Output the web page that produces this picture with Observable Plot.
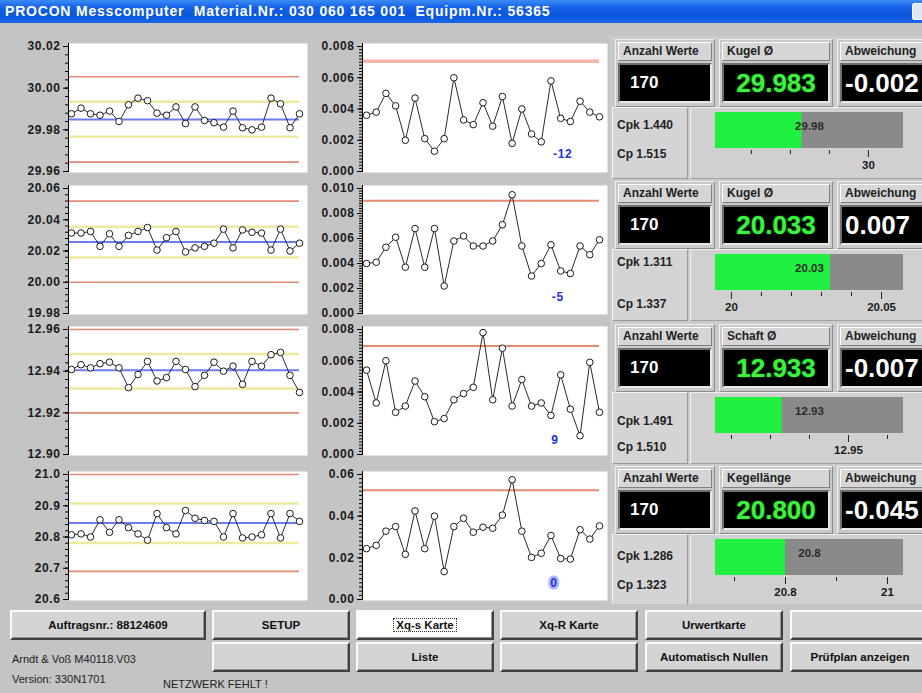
<!DOCTYPE html>
<html><head><meta charset="utf-8">
<script src="https://cdn.jsdelivr.net/npm/d3@7"></script>
<script src="https://cdn.jsdelivr.net/npm/@observablehq/plot@0.6"></script>
<style>
html,body{margin:0;padding:0;}
body{width:922px;height:693px;overflow:hidden;background:#c4c4c4;font-family:"Liberation Sans",Arial,sans-serif;}
#app{position:relative;width:922px;height:693px;overflow:hidden;}
.a{position:absolute;box-sizing:border-box;}
.title{left:0;top:0;width:922px;height:23px;background:linear-gradient(180deg,#3b8cf5 0%,#1360e6 35%,#0a55dc 70%,#1d66e8 100%);color:#fff;font-weight:bold;font-size:14px;letter-spacing:0.8px;line-height:23px;padding-left:5px;white-space:pre;}
.close{left:912px;top:3px;width:18px;height:17px;background:#dfe6f5;border:1px solid #fff;border-radius:2px;}
.hdr{background:#d6d6d6;border-top:1px solid #fff;border-left:1px solid #fff;border-right:1px solid #808080;border-bottom:1px solid #808080;font-weight:bold;font-size:12px;color:#222;padding-left:4px;line-height:17px;white-space:nowrap;overflow:hidden;}
.blk{background:#000;border:2px solid;border-color:#707070 #e8e8e8 #e8e8e8 #707070;white-space:nowrap;overflow:hidden;}
.grp{border:1px solid;border-color:#f0f0f0 #8a8a8a #8a8a8a #f0f0f0;background:#c9c9c9;}
.cpk{background:#d4d4d4;border:1px solid;border-color:#f4f4f4 #9a9a9a #9a9a9a #f4f4f4;}
.gpan{background:#d0d0d0;border:1px solid;border-color:#f0f0f0 #a0a0a0 #a0a0a0 #f0f0f0;}
.ctxt{font-weight:bold;font-size:12px;color:#222;white-space:nowrap;}
.btn{background:#d4d4d4;border:2px solid;border-color:#fafafa #404040 #404040 #fafafa;box-shadow:inset -1px -1px 0 #909090;font-weight:bold;font-size:11.5px;color:#111;text-align:center;white-space:nowrap;overflow:hidden;display:flex;align-items:center;justify-content:center;}
.btn.on{background:#fff;}
.btn.on span{outline:1px dotted #333;padding:0 2px;}
.small{font-size:11px;color:#222;white-space:nowrap;}
</style></head>
<body><div id="app"></div>
<script>
// ---------- data ----------
const titleText = "PROCON Messcomputer  Material.Nr.: 030 060 165 001  Equipm.Nr.: 56365";

// X-bar (mean) series, 25 subgroups each
const xbar1 = [29.9877,29.9904,29.9877,29.9870,29.9890,29.9840,29.9920,29.9952,29.9940,29.9880,29.9870,29.9910,29.9830,29.9910,29.9845,29.9834,29.9813,29.9890,29.9810,29.9800,29.9813,29.9952,29.9925,29.9810,29.9877];
const xbar2 = [20.0315,20.0315,20.0325,20.0230,20.0310,20.0230,20.0300,20.0325,20.0350,20.0206,20.0285,20.0325,20.0194,20.0220,20.0230,20.0250,20.0340,20.0220,20.0335,20.0320,20.0315,20.0206,20.0340,20.0200,20.0250];
const xbar3 = [12.9408,12.9431,12.9416,12.9436,12.9443,12.9416,12.9321,12.9384,12.9447,12.9353,12.9369,12.9447,12.9408,12.9326,12.9380,12.9443,12.9400,12.9424,12.9337,12.9447,12.9424,12.9479,12.9490,12.9380,12.9298];
const xbar4 = [20.807,20.810,20.800,20.855,20.815,20.855,20.830,20.810,20.790,20.875,20.830,20.810,20.885,20.860,20.853,20.850,20.800,20.875,20.797,20.800,20.807,20.875,20.797,20.875,20.850];

// s (standard deviation) series
const s1 = [0.0036,0.0038,0.0050,0.0042,0.0020,0.0047,0.0021,0.0013,0.0021,0.0060,0.0033,0.0030,0.0044,0.0029,0.0048,0.0018,0.0040,0.0024,0.0019,0.0058,0.0034,0.0032,0.0045,0.0038,0.0035];
const s2 = [0.0040,0.0041,0.0053,0.0061,0.0037,0.0068,0.0037,0.0068,0.0022,0.0058,0.0062,0.0054,0.0054,0.0058,0.0071,0.0095,0.0054,0.0030,0.0040,0.0055,0.0034,0.0032,0.0054,0.0047,0.0059];
const s3 = [0.0054,0.0033,0.0060,0.0027,0.0031,0.0047,0.0037,0.0021,0.0023,0.0035,0.0039,0.0043,0.0078,0.0035,0.0068,0.0031,0.0048,0.0031,0.0033,0.0025,0.0051,0.0029,0.0012,0.0059,0.0027];
const s4 = [0.0244,0.0260,0.0328,0.0350,0.0217,0.0425,0.0244,0.0400,0.0134,0.0350,0.0390,0.0323,0.0347,0.0342,0.0405,0.0575,0.0328,0.0202,0.0222,0.0307,0.0197,0.0194,0.0335,0.0290,0.0353];

// control limits (mean charts)
const meanCL  = [29.985, 20.0258, 12.9405, 20.845];
const meanUWL = [29.9935, 20.0356, 12.9482, 20.907];
const meanLWL = [29.9767, 20.0158, 12.9317, 20.781];
const meanUCL = [30.0055, 20.0519, 12.9600, 21.000];
const meanLCL = [29.9645, 20.0000, 12.9200, 20.690];
const sUCL    = [0.00705, 0.00903, 0.00695, 0.0524];

// axis domains and tick labels
const meanDomain = [[29.96,30.02],[19.98,20.06],[12.90,12.96],[20.6,21.0]];
const meanTicks  = [[29.96,29.98,30.00,30.02],[19.98,20.00,20.02,20.04,20.06],[12.90,12.92,12.94,12.96],[20.6,20.7,20.8,20.9,21.0]];
const meanFmt    = [".2f",".2f",".2f",".1f"];
const sDomain    = [[0,0.008],[0,0.010],[0,0.008],[0,0.06]];
const sTicks     = [[0,0.002,0.004,0.006,0.008],[0,0.002,0.004,0.006,0.008,0.010],[0,0.002,0.004,0.006,0.008],[0,0.02,0.04,0.06]];
const sFmt       = [".3f",".3f",".3f",".2f"];

// blue annotation numbers in s charts
const noteText = ["-12","-5","9","0"];
const noteX    = [20.2, 19.7, 19.4, 19.3];
const noteY    = [0.0011, 0.0013, 0.00095, 0.0078];

// right panel values
const countLabel = "Anzahl Werte";
const featureNames = ["Kugel Ø","Kugel Ø","Schaft Ø","Kegellänge"];
const counts = ["170","170","170","170"];
const actualValues = ["29.983","20.033","12.933","20.800"];
const deviations = ["-0.002","0.007","-0.007","-0.045"];
const devLabel = "Abweichung";
const cpkValues = ["1.440","1.311","1.491","1.286"];
const cpValues  = ["1.515","1.337","1.510","1.323"];

// gauges
const gaugeValue  = [29.983, 20.033, 12.933, 20.800];
const gaugeText   = ["29.98","20.03","12.93","20.8"];
const gaugeDomain = [[29.9608,30.0090],[19.9947,20.0573],[12.9159,12.9641],[20.6627,21.0314]];
const gaugeMinor  = [[29.97,29.98,29.99],[20.01,20.02,20.03,20.04],[12.92,12.93,12.94,12.96],[20.7,20.9]];
const gaugeMajor  = [[30.00],[20.00,20.05],[12.95],[20.8,21.0]];
const gaugeMajorLabels = [["30"],["20","20.05"],["12.95"],["20.8","21"]];

// buttons and footer
const buttonsRow1 = ["Auftragsnr.: 88124609","SETUP","Xq-s Karte","Xq-R Karte","Urwertkarte",""];
const buttonsRow2 = ["","Liste","","Automatisch Nullen","Prüfplan anzeigen"];
const footer1 = "Arndt & Voß M40118.V03";
const footer2 = "Version: 330N1701";
const footer3 = "NETZWERK FEHLT !";

// ---------- layout ----------
const app = document.getElementById("app");
function div(cls, x, y, w, h, html) {
  const d = document.createElement("div");
  d.className = "a " + cls;
  d.style.left = x + "px"; d.style.top = y + "px";
  if (w != null) d.style.width = w + "px";
  if (h != null) d.style.height = h + "px";
  if (html != null) d.innerHTML = html;
  app.appendChild(d);
  return d;
}
function place(svg, x, y) {
  svg.style.position = "absolute";
  svg.style.left = x + "px"; svg.style.top = y + "px";
  app.appendChild(svg);
}

div("title", 0, 0, 922, 23).textContent = titleText;
div("close", 912, 3, 18, 17);

const rowTop = [46, 188, 329, 474];   // y of top domain value
const span = 125;
const FONT = '"Liberation Sans", Arial, sans-serif';
const baseStyle = {background: "transparent", overflow: "visible", fontFamily: FONT, fontSize: "12px", fontWeight: "bold", color: "#1a1a1a", letterSpacing: "0.6px"};

function minorTicks(dom, n) { return d3.range(n + 1).map(i => dom[0] + i * (dom[1] - dom[0]) / n); }

const meanData = [xbar1, xbar2, xbar3, xbar4];
const sData = [s1, s2, s3, s4];

for (let r = 0; r < 4; r++) {
  const dataM = meanData[r].map((v, i) => ({i, v}));
  const dataS = sData[r].map((v, i) => ({i, v}));
  const h = 10 + 3 + span + 1 + 10;
  const majorM = meanTicks[r];
  const minorM = d3.merge(d3.pairs(majorM).map(p => minorTicks(p, 5)));
  const left = Plot.plot({
    width: 310, height: h, marginLeft: 68, marginRight: 3, marginTop: 10, marginBottom: 10,
    style: baseStyle,
    x: {domain: [0, 24], insetLeft: 3, insetRight: 8, axis: null},
    y: {domain: meanDomain[r], insetTop: 3, insetBottom: 1, label: null},
    marks: [
      Plot.frame({fill: "white", stroke: null}),
      Plot.ruleY([meanUWL[r], meanLWL[r]], {stroke: "#eeeaa0", strokeWidth: 2.5, insetRight: 8}),
      Plot.ruleY([meanUCL[r], meanLCL[r]], {stroke: "#e28a74", strokeWidth: 1.6, insetRight: 8}),
      Plot.ruleY([meanCL[r]], {stroke: "#6b7ced", strokeWidth: 2, insetRight: 8}),
      Plot.line(dataM, {x: "i", y: "v", stroke: "#23285a", strokeWidth: 1}),
      Plot.dot(dataM, {x: "i", y: "v", r: 3.3, fill: "white", stroke: "#1b1b1b", strokeWidth: 1}),
      Plot.ruleX([0], {dx: -3, stroke: "#000", strokeWidth: 1}),
      Plot.axisY(minorM, {tickSize: 3, tickFormat: () => "", stroke: "#000"}),
      Plot.axisY(majorM, {tickSize: 5, tickPadding: 3, tickFormat: d3.format(meanFmt[r]), stroke: "#000"})
    ]
  });
  place(left, 0, rowTop[r] - 13);

  const majorS = sTicks[r];
  const minorS = d3.merge(d3.pairs(majorS).map(p => minorTicks(p, 10)));
  const right = Plot.plot({
    width: 310, height: h, marginLeft: 62, marginRight: 3, marginTop: 10, marginBottom: 10,
    style: baseStyle,
    x: {domain: [0, 24], insetLeft: 4, insetRight: 8, axis: null},
    y: {domain: sDomain[r], insetTop: 3, insetBottom: 1, label: null},
    marks: [
      Plot.frame({fill: "white", stroke: null}),
      Plot.ruleY([sUCL[r]], {stroke: r === 0 ? "#f5b4a4" : "#e58c70", strokeWidth: r === 0 ? 3.5 : 2, insetRight: 8}),
      Plot.line(dataS, {x: "i", y: "v", stroke: "#2a2a2a", strokeWidth: 1}),
      Plot.dot(dataS, {x: "i", y: "v", r: 3.3, fill: "white", stroke: "#1b1b1b", strokeWidth: 1}),
      Plot.text([noteText[r]], {x: noteX[r], y: noteY[r], text: d => d, fill: "#2233dd", fontSize: 12, fontWeight: "bold",
        stroke: r === 3 ? "#aab6f5" : null, strokeWidth: r === 3 ? 5 : 0}),
      Plot.ruleX([0], {dx: -4, stroke: "#000", strokeWidth: 1}),
      Plot.axisY(minorS, {tickSize: 3, tickFormat: () => "", stroke: "#000"}),
      Plot.axisY(majorS, {tickSize: 5, tickPadding: 3, tickFormat: d3.format(sFmt[r]), stroke: "#000"})
    ]
  });
  place(right, 300, rowTop[r] - 13);
}

// right panel
const hdrTop = [42, 184, 327, 469];
const cpkDy = [[84, 113], [79, 121], [95, 121], [88, 117]];
const cols = [[618, 94], [722, 108], [840, 100]];
div("", 610, 36, 312, 570).style.background = "#cacaca";
for (let r = 0; r < 4; r++) {
  const t = hdrTop[r];
  cols.forEach(([x, w]) => div("grp", x - 3, t - 3, w + 6, 68));
  div("hdr", cols[0][0], t, cols[0][1], 19).textContent = countLabel;
  div("hdr", cols[1][0], t, cols[1][1], 19).textContent = featureNames[r];
  div("hdr", cols[2][0], t, cols[2][1], 19).textContent = devLabel;
  const b1 = div("blk", cols[0][0], t + 21, cols[0][1], 40);
  b1.innerHTML = `<span style="position:absolute;left:10px;top:8px;color:#fff;font-weight:bold;font-size:17px">${counts[r]}</span>`;
  const b2 = div("blk", cols[1][0], t + 21, cols[1][1], 40);
  b2.innerHTML = `<div style="text-align:center;color:#3ef03e;font-weight:bold;font-size:26px;line-height:36px;text-shadow:0 0 2px #1a9a1a">${actualValues[r]}</div>`;
  const b3 = div("blk", cols[2][0], t + 21, cols[2][1], 40);
  b3.innerHTML = `<span style="position:absolute;left:3px;top:3px;color:#fff;font-weight:bold;font-size:26px;line-height:30px">${deviations[r]}</span>`;

  div("cpk", 612, t + 65, 76, 72);
  div("ctxt", 617, t + cpkDy[r][0] - 8, null, null, "Cpk " + cpkValues[r]);
  div("ctxt", 617, t + cpkDy[r][1] - 8, null, null, "Cp " + cpValues[r]);
  div("gpan", 690, t + 65, 240, 72);

  const g = {lo: gaugeDomain[r][0], hi: gaugeDomain[r][1], v: gaugeValue[r]};
  const gauge = Plot.plot({
    width: 232, height: 66, marginLeft: 25, marginRight: 19, marginTop: 2, marginBottom: 28,
    style: {background: "transparent", overflow: "visible", fontFamily: FONT, fontSize: "11.5px", fontWeight: "bold", color: "#1a1a1a"},
    x: {domain: gaugeDomain[r], label: null},
    marks: [
      Plot.rectX([g], {x1: "lo", x2: "hi", fill: "#8a8a8a"}),
      Plot.rectX([g], {x1: "lo", x2: "v", fill: "#20f040"}),
      Plot.text([gaugeText[r]], {frameAnchor: "middle", text: d => d, dy: -4, fill: "#2a2a2a", fontSize: 11.5, fontWeight: "bold"}),
      Plot.axisX(gaugeMinor[r], {anchor: "bottom", tickSize: 4, tickFormat: () => "", stroke: "#222", dy: 2}),
      Plot.axisX(gaugeMajor[r], {anchor: "bottom", tickSize: 7, tickPadding: 3, dy: 2, stroke: "#222",
        tickFormat: (d, i) => gaugeMajorLabels[r][gaugeMajor[r].indexOf(d)]})
    ]
  });
  place(gauge, 690, t + 70 - 2);
}

// bottom area
div("", 0, 604, 922, 89).style.background = "#c4c4c4";
const b1x = [[10, 196], [212, 138], [356, 138], [500, 138], [645, 138], [790, 140]];
buttonsRow1.forEach((txt, i) => {
  const d = div("btn" + (txt === "Xq-s Karte" ? " on" : ""), b1x[i][0], 610, b1x[i][1], 30);
  d.innerHTML = `<span>${txt}</span>`;
});
const b2x = [[212, 138], [356, 138], [500, 138], [645, 138], [790, 140]];
buttonsRow2.forEach((txt, i) => {
  const d = div("btn", b2x[i][0], 642, b2x[i][1], 30);
  d.innerHTML = `<span>${txt}</span>`;
});
div("small", 12, 653, null, null, footer1);
div("small", 12, 673, null, null, footer2);
div("small", 163, 678, null, null, footer3);
</script>
</body></html>
